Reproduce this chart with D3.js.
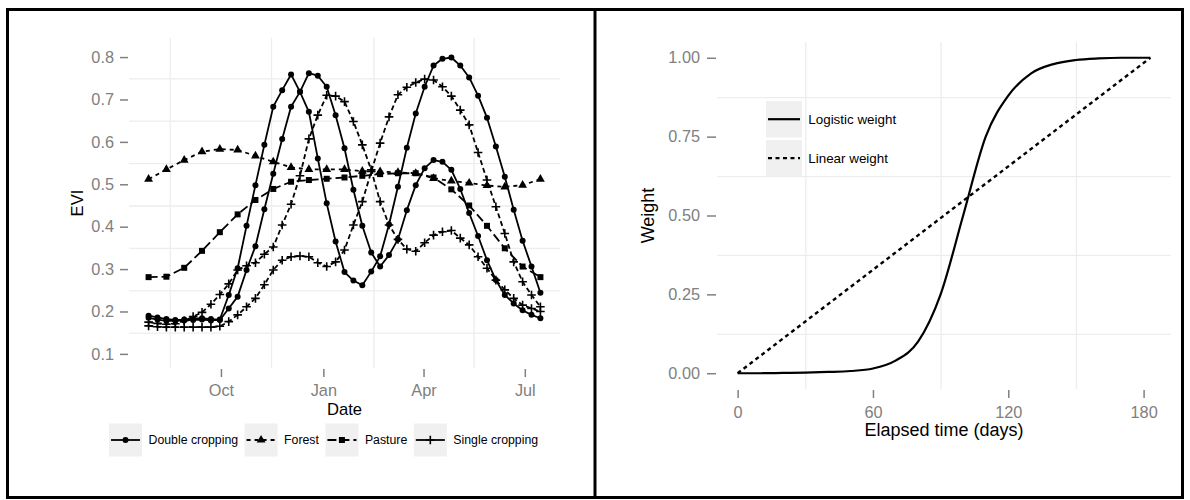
<!DOCTYPE html>
<html>
<head>
<meta charset="utf-8">
<script src="https://cdn.jsdelivr.net/npm/d3@7"></script>
<style>
  body { margin: 0; background: #fff; }
  svg { display: block; font-family: "Liberation Sans", Arial, Helvetica, sans-serif; }
</style>
</head>
<body>
<svg id="chart" width="1190" height="500"></svg>
<script>
// ---- Left panel: EVI profiles (8-day and 16-day composites)
const evDates = ["2012-07-28","2012-08-05","2012-08-13","2012-08-21","2012-08-29","2012-09-06","2012-09-14","2012-09-22",
  "2012-09-30","2012-10-08","2012-10-16","2012-10-24","2012-11-01","2012-11-09","2012-11-17","2012-11-25","2012-12-03",
  "2012-12-11","2012-12-19","2012-12-27","2013-01-04","2013-01-12","2013-01-20","2013-01-28","2013-02-05","2013-02-13",
  "2013-02-21","2013-03-01","2013-03-09","2013-03-17","2013-03-25","2013-04-02","2013-04-10","2013-04-18","2013-04-26",
  "2013-05-04","2013-05-12","2013-05-20","2013-05-28","2013-06-05","2013-06-13","2013-06-21","2013-06-29","2013-07-07","2013-07-15"];

const doubleA = [0.190,0.186,0.182,0.180,0.181,0.183,0.184,0.182,0.181,0.239,0.302,0.402,0.498,0.593,0.683,0.722,0.759,
  0.718,0.671,0.561,0.455,0.365,0.293,0.273,0.262,0.294,0.330,0.405,0.494,0.586,0.667,0.730,0.780,0.796,0.799,0.780,
  0.752,0.709,0.657,0.589,0.518,0.440,0.367,0.306,0.244];
const doubleB = [0.185,0.181,0.178,0.178,0.179,0.180,0.181,0.179,0.180,0.207,0.235,0.298,0.354,0.441,0.525,0.607,0.683,
  0.718,0.762,0.756,0.730,0.663,0.585,0.487,0.402,0.339,0.306,0.333,0.370,0.439,0.498,0.538,0.557,0.553,0.534,0.489,
  0.432,0.378,0.321,0.274,0.239,0.219,0.203,0.192,0.184];
const singleA = [0.166,0.164,0.163,0.163,0.163,0.163,0.163,0.163,0.165,0.176,0.192,0.211,0.231,0.263,0.298,0.321,0.329,
  0.331,0.329,0.315,0.306,0.317,0.345,0.404,0.459,0.530,0.597,0.659,0.711,0.729,0.740,0.748,0.746,0.730,0.708,0.675,
  0.640,0.575,0.510,0.447,0.384,0.317,0.270,0.239,0.211];
const singleB = [0.175,0.172,0.170,0.171,0.178,0.188,0.198,0.217,0.240,0.265,0.298,0.308,0.315,0.335,0.352,0.404,0.453,
  0.520,0.607,0.663,0.710,0.708,0.695,0.648,0.593,0.534,0.459,0.404,0.370,0.347,0.342,0.362,0.380,0.388,0.391,0.373,
  0.357,0.329,0.302,0.274,0.251,0.231,0.215,0.207,0.200];
// forest and pasture are on the 16-day dates (every other date above)
const forest = [0.512,0.535,0.557,0.577,0.583,0.581,0.567,0.553,0.540,0.535,0.535,0.535,0.531,0.530,0.528,0.526,0.514,
  0.508,0.503,0.497,0.494,0.498,0.512];
const pasture = [0.281,0.282,0.303,0.343,0.387,0.429,0.463,0.489,0.506,0.510,0.513,0.516,0.520,0.524,0.526,0.526,0.516,
  0.488,0.450,0.402,0.349,0.306,0.281];

const classNames = ["Double cropping", "Forest", "Pasture", "Single cropping"];
const dateTicks = ["2012-10-01", "2013-01-01", "2013-04-01", "2013-07-01"];
const dateTickLabels = ["Oct", "Jan", "Apr", "Jul"];
const dateMinor = ["2012-08-16", "2012-11-15", "2013-02-15", "2013-05-16"];
const eviTicks = [0.1, 0.2, 0.3, 0.4, 0.5, 0.6, 0.7, 0.8];
const eviMinor = [0.15, 0.25, 0.35, 0.45, 0.55, 0.65, 0.75];

// ---- Right panel: weights
const logisticDays = [0, 10, 20, 30, 40, 50, 60, 70, 80, 90, 100, 110, 120, 130, 140, 150, 160, 170, 183];
const logisticW = [0, 0, 0.001, 0.002, 0.004, 0.007, 0.015, 0.04, 0.10, 0.25, 0.50, 0.75, 0.88, 0.95, 0.98, 0.993, 0.998, 1.0, 1.0];
const linearDays = [0, 183];
const linearW = [0, 1];
const dayTicks = [0, 60, 120, 180];
const dayMinor = [30, 90, 150];
const weightTicks = [0, 0.25, 0.5, 0.75, 1];
const weightMinor = [0.125, 0.375, 0.625, 0.875];
const weightNames = ["Logistic weight", "Linear weight"];

const svg = d3.select("#chart");
const parseDay = d3.utcParse("%Y-%m-%d");
const gridCol = "#ededed", tickCol = "#808080", keyFill = "#f0f0f0";

// frame (table borders)
svg.append("rect").attr("x", 7.5).attr("y", 9.5).attr("width", 1175).attr("height", 488)
    .attr("fill", "none").attr("stroke", "#000").attr("stroke-width", 3);
svg.append("line").attr("x1", 595).attr("x2", 595).attr("y1", 9.5).attr("y2", 497.5)
    .attr("stroke", "#000").attr("stroke-width", 3);

function styleAxis(g, fontSize) {
    g.select(".domain").remove();
    g.selectAll(".tick line").attr("stroke", tickCol).attr("stroke-width", 1.5);
    g.selectAll(".tick text").attr("fill", tickCol).style("font-size", fontSize);
}

function gridAxes(g, xs, ys, xMinor, yMinor, p) {
    g.append("g").attr("transform", `translate(0,${p.bottom})`)
        .call(d3.axisBottom(xs).tickValues(xMinor).tickSize(-(p.bottom - p.top)).tickFormat(""))
        .call(a => { a.select(".domain").remove(); a.selectAll("line").attr("stroke", gridCol).attr("stroke-width", 1.3); });
    g.append("g").attr("transform", `translate(${p.left},0)`)
        .call(d3.axisLeft(ys).tickValues(yMinor).tickSize(-(p.right - p.left)).tickFormat(""))
        .call(a => { a.select(".domain").remove(); a.selectAll("line").attr("stroke", gridCol).attr("stroke-width", 1.3); });
}

function drawMarker(sel, shape) {
    if (shape === "circle") {
        sel.append("circle").attr("r", 3).attr("fill", "#000");
    } else if (shape === "triangle") {
        sel.append("path").attr("d", d3.symbol(d3.symbolTriangle, 34)()).attr("fill", "#000");
    } else if (shape === "square") {
        sel.append("rect").attr("x", -3).attr("y", -3).attr("width", 6).attr("height", 6).attr("fill", "#000");
    } else {
        sel.append("path").attr("d", "M-4.3,0H4.3M0,-4.3V4.3").attr("stroke", "#000").attr("stroke-width", 1.6);
    }
}

// ================= LEFT PANEL =================
const dates8 = evDates.map(parseDay);
const dates16 = dates8.filter((d, i) => i % 2 === 0);
const pL = { left: 129, right: 560, top: 38, bottom: 368 };

const ext = d3.extent(dates8);
const pad = (ext[1] - ext[0]) * 0.05;
const xL = d3.scaleUtc().domain([new Date(+ext[0] - pad), new Date(+ext[1] + pad)]).range([pL.left, pL.right]);
const yL = d3.scaleLinear().domain([0.0667, 0.845]).range([pL.bottom, pL.top]);

const gL = svg.append("g");
gridAxes(gL, xL, yL, dateMinor.map(parseDay), eviMinor, pL);

gL.append("g").attr("transform", `translate(${pL.left - 1},0)`)
    .call(d3.axisLeft(yL).tickValues(eviTicks).tickSize(8).tickPadding(6).tickFormat(d3.format(".1f")))
    .call(a => styleAxis(a, "16.3px"));
gL.append("g").attr("transform", `translate(0,${pL.bottom + 1})`)
    .call(d3.axisBottom(xL).tickValues(dateTicks.map(parseDay)).tickSize(8).tickPadding(7.5)
        .tickFormat((d, i) => dateTickLabels[i]))
    .call(a => styleAxis(a, "16.3px"));

gL.append("text").attr("x", (pL.left + pL.right) / 2).attr("y", 409.5).attr("dy", "0.35em")
    .attr("text-anchor", "middle").style("font-size", "16.6px").text("Date");
gL.append("text").attr("transform", `translate(77,${(pL.top + pL.bottom) / 2}) rotate(-90)`).attr("dy", "0.35em")
    .attr("text-anchor", "middle").style("font-size", "16.6px").text("EVI");

const classStyle = [
    { shape: "circle", dash: null, keyDash: null },
    { shape: "triangle", dash: "4,4", keyDash: "4,4" },
    { shape: "square", dash: "9,4", keyDash: "9,4" },
    { shape: "cross", dash: "5,3", keyDash: null }
];

const series = [
    { dates: dates8, vals: doubleA, cls: 0 },
    { dates: dates8, vals: doubleB, cls: 0 },
    { dates: dates16, vals: forest, cls: 1 },
    { dates: dates16, vals: pasture, cls: 2 },
    { dates: dates8, vals: singleA, cls: 3 },
    { dates: dates8, vals: singleB, cls: 3 }
];

const lineL = d3.line().x(d => xL(d[0])).y(d => yL(d[1]));
series.forEach(s => {
    gL.append("path")
        .datum(s.dates.map((d, i) => [d, s.vals[i]]))
        .attr("d", lineL)
        .attr("fill", "none").attr("stroke", "#000").attr("stroke-width", 1.8)
        .attr("stroke-linejoin", "round")
        .attr("stroke-dasharray", classStyle[s.cls].dash);
});
series.forEach(s => {
    gL.append("g").selectAll("g")
        .data(s.dates.map((d, i) => [d, s.vals[i]]))
        .join("g")
        .attr("transform", d => `translate(${xL(d[0])},${yL(d[1])})`)
        .each(function () { drawMarker(d3.select(this), classStyle[s.cls].shape); });
});

// legend under the left plot
let lx = 109;
const legendL = svg.append("g");
classNames.forEach((name, i) => {
    const st = classStyle[i];
    const g = legendL.append("g").attr("transform", `translate(${lx},440)`);
    g.append("rect").attr("x", 0).attr("y", -16.5).attr("width", 33).attr("height", 33).attr("fill", keyFill);
    g.append("line").attr("x1", 2).attr("x2", 31).attr("y1", 0).attr("y2", 0)
        .attr("stroke", "#000").attr("stroke-width", 1.8).attr("stroke-dasharray", st.keyDash);
    drawMarker(g.append("g").attr("transform", "translate(16.5,0)"), st.shape);
    const t = g.append("text").attr("x", 39.5).attr("dy", "0.35em").style("font-size", "12.3px").text(name);
    lx += 39.5 + t.node().getComputedTextLength() + 6.5;
});

// ================= RIGHT PANEL =================
const pR = { left: 717, right: 1171, top: 42, bottom: 389 };
const xR = d3.scaleLinear().domain([-9.15, 192.15]).range([pR.left, pR.right]);
const yR = d3.scaleLinear().domain([-0.05, 1.05]).range([pR.bottom, pR.top]);

const gR = svg.append("g");
gridAxes(gR, xR, yR, dayMinor, weightMinor, pR);

gR.append("g").attr("transform", `translate(${pR.left - 1},0)`)
    .call(d3.axisLeft(yR).tickValues(weightTicks).tickSize(9).tickPadding(7).tickFormat(d3.format(".2f")))
    .call(a => styleAxis(a, "16.3px"));
gR.append("g").attr("transform", `translate(0,${pR.bottom + 1})`)
    .call(d3.axisBottom(xR).tickValues(dayTicks).tickSize(8).tickPadding(8).tickFormat(d3.format("d")))
    .call(a => styleAxis(a, "16.3px"));

gR.append("text").attr("x", (pR.left + pR.right) / 2).attr("y", 430).attr("dy", "0.35em")
    .attr("text-anchor", "middle").style("font-size", "18px").text("Elapsed time (days)");
gR.append("text").attr("transform", `translate(648,${(pR.top + pR.bottom) / 2}) rotate(-90)`).attr("dy", "0.35em")
    .attr("text-anchor", "middle").style("font-size", "18px").text("Weight");

gR.append("path")
    .datum(logisticDays.map((d, i) => [d, logisticW[i]]))
    .attr("d", d3.line().x(d => xR(d[0])).y(d => yR(d[1])).curve(d3.curveMonotoneX))
    .attr("fill", "none").attr("stroke", "#000").attr("stroke-width", 2.2);
gR.append("path")
    .datum(linearDays.map((d, i) => [d, linearW[i]]))
    .attr("d", d3.line().x(d => xR(d[0])).y(d => yR(d[1])))
    .attr("fill", "none").attr("stroke", "#000").attr("stroke-width", 2.4).attr("stroke-dasharray", "4,3.5");

// legend inside the right plot
const legendR = svg.append("g").attr("transform", "translate(766,101)");
weightNames.forEach((name, i) => {
    const g = legendR.append("g").attr("transform", `translate(0,${i * 39})`);
    g.append("rect").attr("width", 36).attr("height", 36.5).attr("fill", keyFill);
    g.append("line").attr("x1", 2).attr("x2", 34).attr("y1", 18.2).attr("y2", 18.2)
        .attr("stroke", "#000").attr("stroke-width", 2.2).attr("stroke-dasharray", i === 1 ? "4,3.5" : null);
    g.append("text").attr("x", 42.3).attr("y", 18.2).attr("dy", "0.35em").style("font-size", "13.4px").text(name);
});
</script>
</body>
</html>
